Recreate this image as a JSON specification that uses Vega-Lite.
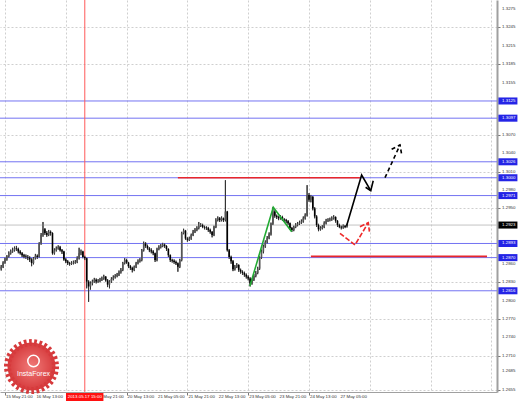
{
 "$schema": "https://vega.github.io/schema/vega-lite/v6.json",
 "width": 497, "height": 392,
 "autosize": {"type": "none"},
 "padding": {"left": 0, "top": 0, "right": 21, "bottom": 10},
 "background": "white",
 "config": {"view": {"stroke": null}, "font": "Liberation Sans"},
 "datasets": {
  "candles": [
{"i":-2,"o":1.2852,"h":1.2858,"l":1.2849,"c":1.2855},
{"i":-1,"o":1.2855,"h":1.2864,"l":1.2853,"c":1.2862},
{"i":0,"o":1.2862,"h":1.2870,"l":1.2860,"c":1.2867},
{"i":1,"o":1.2867,"h":1.2874,"l":1.2865,"c":1.2872},
{"i":2,"o":1.2872,"h":1.2880,"l":1.2870,"c":1.2877},
{"i":3,"o":1.2877,"h":1.2883,"l":1.2875,"c":1.2880},
{"i":4,"o":1.2880,"h":1.2886,"l":1.2878,"c":1.2882},
{"i":5,"o":1.2882,"h":1.2888,"l":1.2880,"c":1.2885},
{"i":6,"o":1.2885,"h":1.2889,"l":1.2881,"c":1.2884},
{"i":7,"o":1.2884,"h":1.2886,"l":1.2877,"c":1.2880},
{"i":8,"o":1.2880,"h":1.2882,"l":1.2875,"c":1.2877},
{"i":9,"o":1.2877,"h":1.2879,"l":1.2871,"c":1.2874},
{"i":10,"o":1.2874,"h":1.2876,"l":1.2869,"c":1.2872},
{"i":11,"o":1.2872,"h":1.2875,"l":1.2868,"c":1.2871},
{"i":12,"o":1.2871,"h":1.2874,"l":1.2866,"c":1.2870},
{"i":13,"o":1.2870,"h":1.2872,"l":1.2863,"c":1.2867},
{"i":14,"o":1.2867,"h":1.2869,"l":1.2856,"c":1.2861},
{"i":15,"o":1.2861,"h":1.2871,"l":1.2859,"c":1.2869},
{"i":16,"o":1.2869,"h":1.2876,"l":1.2867,"c":1.2873},
{"i":17,"o":1.2873,"h":1.2875,"l":1.2868,"c":1.2871},
{"i":18,"o":1.2871,"h":1.2895,"l":1.2870,"c":1.2893},
{"i":19,"o":1.2893,"h":1.2910,"l":1.2891,"c":1.2907},
{"i":20,"o":1.2907,"h":1.2928,"l":1.2904,"c":1.2916},
{"i":21,"o":1.2916,"h":1.2918,"l":1.2907,"c":1.2910},
{"i":22,"o":1.2910,"h":1.2913,"l":1.2904,"c":1.2907},
{"i":23,"o":1.2907,"h":1.2915,"l":1.2905,"c":1.2912},
{"i":24,"o":1.2912,"h":1.2914,"l":1.2906,"c":1.2910},
{"i":25,"o":1.2910,"h":1.2911,"l":1.2875,"c":1.2877},
{"i":26,"o":1.2877,"h":1.2885,"l":1.2875,"c":1.2882},
{"i":27,"o":1.2882,"h":1.2888,"l":1.2880,"c":1.2885},
{"i":28,"o":1.2885,"h":1.2890,"l":1.2883,"c":1.2887},
{"i":29,"o":1.2887,"h":1.2889,"l":1.2880,"c":1.2882},
{"i":30,"o":1.2882,"h":1.2884,"l":1.2876,"c":1.2880},
{"i":31,"o":1.2880,"h":1.2881,"l":1.2865,"c":1.2867},
{"i":32,"o":1.2867,"h":1.2869,"l":1.2861,"c":1.2864},
{"i":33,"o":1.2864,"h":1.2866,"l":1.2858,"c":1.2861},
{"i":34,"o":1.2861,"h":1.2863,"l":1.2857,"c":1.2860},
{"i":35,"o":1.2860,"h":1.2864,"l":1.2858,"c":1.2861},
{"i":36,"o":1.2861,"h":1.2865,"l":1.2859,"c":1.2862},
{"i":37,"o":1.2862,"h":1.2866,"l":1.2860,"c":1.2863},
{"i":38,"o":1.2863,"h":1.2872,"l":1.2861,"c":1.2869},
{"i":39,"o":1.2869,"h":1.2886,"l":1.2867,"c":1.2877},
{"i":40,"o":1.2877,"h":1.2883,"l":1.2874,"c":1.2880},
{"i":41,"o":1.2880,"h":1.2881,"l":1.2869,"c":1.2871},
{"i":42,"o":1.2871,"h":1.2873,"l":1.2866,"c":1.2869},
{"i":43,"o":1.2869,"h":1.2870,"l":1.2820,"c":1.2831},
{"i":44,"o":1.2831,"h":1.2833,"l":1.2798,"c":1.2823},
{"i":45,"o":1.2823,"h":1.2831,"l":1.2818,"c":1.2828},
{"i":46,"o":1.2828,"h":1.2834,"l":1.2825,"c":1.2831},
{"i":47,"o":1.2831,"h":1.2837,"l":1.2829,"c":1.2834},
{"i":48,"o":1.2834,"h":1.2836,"l":1.2828,"c":1.2831},
{"i":49,"o":1.2831,"h":1.2835,"l":1.2829,"c":1.2832},
{"i":50,"o":1.2832,"h":1.2837,"l":1.2830,"c":1.2834},
{"i":51,"o":1.2834,"h":1.2839,"l":1.2832,"c":1.2836},
{"i":52,"o":1.2836,"h":1.2842,"l":1.2834,"c":1.2839},
{"i":53,"o":1.2839,"h":1.2840,"l":1.2831,"c":1.2833},
{"i":54,"o":1.2833,"h":1.2835,"l":1.2822,"c":1.2826},
{"i":55,"o":1.2826,"h":1.2833,"l":1.2820,"c":1.2831},
{"i":56,"o":1.2831,"h":1.2838,"l":1.2829,"c":1.2835},
{"i":57,"o":1.2835,"h":1.2841,"l":1.2833,"c":1.2838},
{"i":58,"o":1.2838,"h":1.2843,"l":1.2836,"c":1.2840},
{"i":59,"o":1.2840,"h":1.2845,"l":1.2838,"c":1.2842},
{"i":60,"o":1.2842,"h":1.2849,"l":1.2840,"c":1.2846},
{"i":61,"o":1.2846,"h":1.2853,"l":1.2844,"c":1.2850},
{"i":62,"o":1.2850,"h":1.2863,"l":1.2848,"c":1.2861},
{"i":63,"o":1.2861,"h":1.2869,"l":1.2859,"c":1.2866},
{"i":64,"o":1.2866,"h":1.2868,"l":1.2860,"c":1.2862},
{"i":65,"o":1.2862,"h":1.2863,"l":1.2853,"c":1.2856},
{"i":66,"o":1.2856,"h":1.2858,"l":1.2850,"c":1.2853},
{"i":67,"o":1.2853,"h":1.2855,"l":1.2846,"c":1.2850},
{"i":68,"o":1.2850,"h":1.2857,"l":1.2848,"c":1.2855},
{"i":69,"o":1.2855,"h":1.2863,"l":1.2853,"c":1.2861},
{"i":70,"o":1.2861,"h":1.2867,"l":1.2859,"c":1.2864},
{"i":71,"o":1.2864,"h":1.2869,"l":1.2862,"c":1.2866},
{"i":72,"o":1.2866,"h":1.2884,"l":1.2864,"c":1.2882},
{"i":73,"o":1.2882,"h":1.2896,"l":1.2880,"c":1.2893},
{"i":74,"o":1.2893,"h":1.2895,"l":1.2886,"c":1.2889},
{"i":75,"o":1.2889,"h":1.2891,"l":1.2883,"c":1.2885},
{"i":76,"o":1.2885,"h":1.2887,"l":1.2879,"c":1.2882},
{"i":77,"o":1.2882,"h":1.2885,"l":1.2877,"c":1.2880},
{"i":78,"o":1.2880,"h":1.2882,"l":1.2874,"c":1.2877},
{"i":79,"o":1.2877,"h":1.2878,"l":1.2863,"c":1.2866},
{"i":80,"o":1.2866,"h":1.2886,"l":1.2864,"c":1.2884},
{"i":81,"o":1.2884,"h":1.2890,"l":1.2882,"c":1.2887},
{"i":82,"o":1.2887,"h":1.2892,"l":1.2885,"c":1.2889},
{"i":83,"o":1.2889,"h":1.2894,"l":1.2887,"c":1.2891},
{"i":84,"o":1.2891,"h":1.2893,"l":1.2886,"c":1.2889},
{"i":85,"o":1.2889,"h":1.2890,"l":1.2881,"c":1.2884},
{"i":86,"o":1.2884,"h":1.2885,"l":1.2871,"c":1.2874},
{"i":87,"o":1.2874,"h":1.2875,"l":1.2863,"c":1.2866},
{"i":88,"o":1.2866,"h":1.2868,"l":1.2862,"c":1.2865},
{"i":89,"o":1.2865,"h":1.2867,"l":1.2860,"c":1.2863},
{"i":90,"o":1.2863,"h":1.2865,"l":1.2858,"c":1.2861},
{"i":91,"o":1.2861,"h":1.2862,"l":1.2847,"c":1.2855},
{"i":92,"o":1.2855,"h":1.2868,"l":1.2853,"c":1.2866},
{"i":93,"o":1.2866,"h":1.2912,"l":1.2864,"c":1.2910},
{"i":94,"o":1.2910,"h":1.2917,"l":1.2908,"c":1.2914},
{"i":95,"o":1.2914,"h":1.2915,"l":1.2899,"c":1.2901},
{"i":96,"o":1.2901,"h":1.2903,"l":1.2896,"c":1.2899},
{"i":97,"o":1.2899,"h":1.2904,"l":1.2897,"c":1.2901},
{"i":98,"o":1.2901,"h":1.2909,"l":1.2899,"c":1.2907},
{"i":99,"o":1.2907,"h":1.2915,"l":1.2905,"c":1.2912},
{"i":100,"o":1.2912,"h":1.2918,"l":1.2910,"c":1.2915},
{"i":101,"o":1.2915,"h":1.2921,"l":1.2913,"c":1.2918},
{"i":102,"o":1.2918,"h":1.2928,"l":1.2916,"c":1.2922},
{"i":103,"o":1.2922,"h":1.2926,"l":1.2920,"c":1.2923},
{"i":104,"o":1.2923,"h":1.2925,"l":1.2918,"c":1.2920},
{"i":105,"o":1.2920,"h":1.2922,"l":1.2916,"c":1.2919},
{"i":106,"o":1.2919,"h":1.2921,"l":1.2915,"c":1.2918},
{"i":107,"o":1.2918,"h":1.2920,"l":1.2912,"c":1.2915},
{"i":108,"o":1.2915,"h":1.2917,"l":1.2909,"c":1.2912},
{"i":109,"o":1.2912,"h":1.2913,"l":1.2903,"c":1.2907},
{"i":110,"o":1.2907,"h":1.2922,"l":1.2905,"c":1.2920},
{"i":111,"o":1.2920,"h":1.2934,"l":1.2918,"c":1.2931},
{"i":112,"o":1.2931,"h":1.2937,"l":1.2929,"c":1.2934},
{"i":113,"o":1.2934,"h":1.2936,"l":1.2928,"c":1.2931},
{"i":114,"o":1.2931,"h":1.2937,"l":1.2929,"c":1.2934},
{"i":115,"o":1.2934,"h":1.2935,"l":1.2928,"c":1.2931},
{"i":116,"o":1.2931,"h":1.2996,"l":1.2929,"c":1.2945},
{"i":117,"o":1.2945,"h":1.2946,"l":1.2880,"c":1.2882},
{"i":118,"o":1.2882,"h":1.2884,"l":1.2868,"c":1.2871},
{"i":119,"o":1.2871,"h":1.2873,"l":1.2860,"c":1.2864},
{"i":120,"o":1.2864,"h":1.2866,"l":1.2848,"c":1.2851},
{"i":121,"o":1.2851,"h":1.2858,"l":1.2849,"c":1.2855},
{"i":122,"o":1.2855,"h":1.2861,"l":1.2853,"c":1.2858},
{"i":123,"o":1.2858,"h":1.2859,"l":1.2847,"c":1.2850},
{"i":124,"o":1.2850,"h":1.2852,"l":1.2844,"c":1.2847},
{"i":125,"o":1.2847,"h":1.2849,"l":1.2842,"c":1.2845},
{"i":126,"o":1.2845,"h":1.2847,"l":1.2839,"c":1.2842},
{"i":127,"o":1.2842,"h":1.2844,"l":1.2836,"c":1.2839},
{"i":128,"o":1.2839,"h":1.2841,"l":1.2833,"c":1.2836},
{"i":129,"o":1.2836,"h":1.2838,"l":1.2823,"c":1.2828},
{"i":130,"o":1.2828,"h":1.2836,"l":1.2826,"c":1.2834},
{"i":131,"o":1.2834,"h":1.2843,"l":1.2832,"c":1.2840},
{"i":132,"o":1.2840,"h":1.2848,"l":1.2838,"c":1.2845},
{"i":133,"o":1.2845,"h":1.2855,"l":1.2843,"c":1.2852},
{"i":134,"o":1.2852,"h":1.2872,"l":1.2850,"c":1.2870},
{"i":135,"o":1.2870,"h":1.2883,"l":1.2868,"c":1.2880},
{"i":136,"o":1.2880,"h":1.2891,"l":1.2877,"c":1.2888},
{"i":137,"o":1.2888,"h":1.2898,"l":1.2886,"c":1.2895},
{"i":138,"o":1.2895,"h":1.2905,"l":1.2893,"c":1.2902},
{"i":139,"o":1.2902,"h":1.2911,"l":1.2900,"c":1.2908},
{"i":140,"o":1.2908,"h":1.2927,"l":1.2906,"c":1.2925},
{"i":141,"o":1.2925,"h":1.2952,"l":1.2923,"c":1.2945},
{"i":142,"o":1.2945,"h":1.2947,"l":1.2935,"c":1.2938},
{"i":143,"o":1.2938,"h":1.2940,"l":1.2933,"c":1.2936},
{"i":144,"o":1.2936,"h":1.2938,"l":1.2931,"c":1.2934},
{"i":145,"o":1.2934,"h":1.2939,"l":1.2932,"c":1.2936},
{"i":146,"o":1.2936,"h":1.2938,"l":1.2930,"c":1.2932},
{"i":147,"o":1.2932,"h":1.2934,"l":1.2928,"c":1.2931},
{"i":148,"o":1.2931,"h":1.2933,"l":1.2926,"c":1.2929},
{"i":149,"o":1.2929,"h":1.2931,"l":1.2923,"c":1.2926},
{"i":150,"o":1.2926,"h":1.2927,"l":1.2915,"c":1.2918},
{"i":151,"o":1.2918,"h":1.2920,"l":1.2912,"c":1.2915},
{"i":152,"o":1.2915,"h":1.2922,"l":1.2913,"c":1.2920},
{"i":153,"o":1.2920,"h":1.2926,"l":1.2918,"c":1.2923},
{"i":154,"o":1.2923,"h":1.2928,"l":1.2921,"c":1.2925},
{"i":155,"o":1.2925,"h":1.2930,"l":1.2923,"c":1.2927},
{"i":156,"o":1.2927,"h":1.2932,"l":1.2925,"c":1.2929},
{"i":157,"o":1.2929,"h":1.2937,"l":1.2927,"c":1.2934},
{"i":158,"o":1.2934,"h":1.2942,"l":1.2932,"c":1.2939},
{"i":159,"o":1.2939,"h":1.2988,"l":1.2937,"c":1.2972},
{"i":160,"o":1.2972,"h":1.2975,"l":1.2961,"c":1.2964},
{"i":161,"o":1.2964,"h":1.2972,"l":1.2960,"c":1.2969},
{"i":162,"o":1.2969,"h":1.2970,"l":1.2947,"c":1.2950},
{"i":163,"o":1.2950,"h":1.2952,"l":1.2934,"c":1.2937},
{"i":164,"o":1.2937,"h":1.2939,"l":1.2920,"c":1.2923},
{"i":165,"o":1.2923,"h":1.2925,"l":1.2913,"c":1.2916},
{"i":166,"o":1.2916,"h":1.2921,"l":1.2914,"c":1.2918},
{"i":167,"o":1.2918,"h":1.2923,"l":1.2916,"c":1.2920},
{"i":168,"o":1.2920,"h":1.2929,"l":1.2918,"c":1.2926},
{"i":169,"o":1.2926,"h":1.2933,"l":1.2924,"c":1.2930},
{"i":170,"o":1.2930,"h":1.2934,"l":1.2928,"c":1.2931},
{"i":171,"o":1.2931,"h":1.2935,"l":1.2929,"c":1.2932},
{"i":172,"o":1.2932,"h":1.2937,"l":1.2930,"c":1.2934},
{"i":173,"o":1.2934,"h":1.2939,"l":1.2932,"c":1.2936},
{"i":174,"o":1.2936,"h":1.2937,"l":1.2927,"c":1.2930},
{"i":175,"o":1.2930,"h":1.2931,"l":1.2920,"c":1.2923},
{"i":176,"o":1.2923,"h":1.2925,"l":1.2918,"c":1.2920},
{"i":177,"o":1.2920,"h":1.2922,"l":1.2916,"c":1.2919},
{"i":178,"o":1.2919,"h":1.2924,"l":1.2917,"c":1.2922},
{"i":179,"o":1.2922,"h":1.2923,"l":1.2918,"c":1.2920},
{"i":180,"o":1.2920,"h":1.2925,"l":1.2919,"c":1.2923}
  ],
  "levels": [
   {"p":1.3125,"lab":"1.3125","kind":"blue"},
   {"p":1.3097,"lab":"1.3097","kind":"blue"},
   {"p":1.3026,"lab":"1.3026","kind":"blue"},
   {"p":1.3000,"lab":"1.3000","kind":"blue"},
   {"p":1.2971,"lab":"1.2971","kind":"blue"},
   {"p":1.2893,"lab":"1.2893","kind":"blue"},
   {"p":1.2870,"lab":"1.2870","kind":"blue"},
   {"p":1.2816,"lab":"1.2816","kind":"blue"},
   {"p":1.2923,"lab":"1.2923","kind":"bid"}
  ],
  "ylabels": [
   {"p":1.3275,"lab":"1.3275"},{"p":1.3245,"lab":"1.3245"},{"p":1.3215,"lab":"1.3215"},{"p":1.3185,"lab":"1.3185"},
   {"p":1.3155,"lab":"1.3155"},{"p":1.3070,"lab":"1.3070"},{"p":1.3040,"lab":"1.3040"},{"p":1.3010,"lab":"1.3010"},
   {"p":1.2980,"lab":"1.2980"},{"p":1.2950,"lab":"1.2950"},{"p":1.2860,"lab":"1.2860"},{"p":1.2830,"lab":"1.2830"},
   {"p":1.2800,"lab":"1.2800"},{"p":1.2770,"lab":"1.2770"},{"p":1.2740,"lab":"1.2740"},{"p":1.2710,"lab":"1.2710"},
   {"p":1.2685,"lab":"1.2685"},{"p":1.2655,"lab":"1.2655"}
  ],
  "xlabels": [
   {"i":0,"lab":"15 May 21:00"},{"i":16,"lab":"16 May 13:00"},{"i":48,"lab":"17 May 21:00"},
   {"i":64,"lab":"20 May 13:00"},{"i":80,"lab":"21 May 05:00"},{"i":96,"lab":"21 May 21:00"},{"i":112,"lab":"22 May 13:00"},
   {"i":128,"lab":"23 May 05:00"},{"i":144,"lab":"23 May 21:00"},{"i":160,"lab":"24 May 13:00"},{"i":176,"lab":"27 May 05:00"}
  ],
  "redlines": [
   {"p":1.3000,"a":91,"b":186.8},
   {"p":1.2872,"a":161,"b":253.7}
  ],
  "vline": [{"i":42,"lab":"2013.05.17 15:00"}],
  "paths": [
   {"seg":"g","k":0,"i":128.9,"p":1.28238,"kind":"green"},
   {"seg":"g","k":1,"i":141.2,"p":1.29519,"kind":"green"},
   {"seg":"g","k":2,"i":150.9,"p":1.29122,"kind":"green"},
   {"seg":"b1","k":0,"i":179.8,"p":1.2922,"kind":"black"},
   {"seg":"b1","k":1,"i":187.7,"p":1.30045,"kind":"black"},
   {"seg":"b1","k":2,"i":192.5,"p":1.2979,"kind":"black"},
   {"seg":"b2","k":0,"i":189.8,"p":1.29845,"kind":"black"},
   {"seg":"b2","k":1,"i":192.5,"p":1.2979,"kind":"black"},
   {"seg":"b2","k":2,"i":193.8,"p":1.29952,"kind":"black"},
   {"seg":"d1","k":0,"i":200,"p":1.30001,"kind":"blackdash"},
   {"seg":"d1","k":1,"i":207.9,"p":1.30534,"kind":"blackdash"},
   {"seg":"d2","k":0,"i":203.5,"p":1.30464,"kind":"blackdash"},
   {"seg":"d2","k":1,"i":207.9,"p":1.30534,"kind":"blackdash"},
   {"seg":"d2","k":2,"i":208.8,"p":1.30371,"kind":"blackdash"},
   {"seg":"r1","k":0,"i":176.3,"p":1.29096,"kind":"red"},
   {"seg":"r1","k":1,"i":184.2,"p":1.28906,"kind":"red"},
   {"seg":"r1","k":2,"i":191.2,"p":1.29269,"kind":"red"},
   {"seg":"r2","k":0,"i":186.8,"p":1.29203,"kind":"red"},
   {"seg":"r2","k":1,"i":191.2,"p":1.29269,"kind":"red"},
   {"seg":"r2","k":2,"i":191.8,"p":1.29122,"kind":"red"}
  ],
  "logo": [{"name":"InstaForex"}]
 },
 "layer": [
  {
   "data": {"name": "candles"},
   "mark": {"type": "rule", "color": "#333333", "strokeWidth": 1},
   "encoding": {
    "x": {"field": "i", "type": "quantitative", "scale": {"domain": [-2.63, 258.95], "nice": false, "zero": false},
     "axis": {"title": null, "values": [0,8,16,24,32,40,48,56,64,72,80,88,96,104,112,120,128,136,144,152,160,168,176,184,192,200,208,216,224,232,240,248,256],
      "grid": true, "gridDash": [2,2], "gridColor": "#cfcfcf", "gridWidth": 1, "labels": false,
      "tickSize": 3, "tickColor": "#777777",
      "tickOpacity": {"condition": {"test": "datum.value % 16 != 0 || datum.value > 176", "value": 0}, "value": 1},
      "domainColor": "#a0a0a0", "domainWidth": 1}},
    "y": {"field": "l", "type": "quantitative", "scale": {"domain": [1.26512, 1.32894], "nice": false, "zero": false},
     "axis": {"title": null, "orient": "right", "values": [1.3275,1.3245,1.3215,1.3185,1.3155,1.3070,1.3040,1.3010,1.2980,1.2950,1.2860,1.2830,1.2800,1.2770,1.2740,1.2710,1.2685,1.2655],
      "grid": true, "gridDash": [2,2], "gridColor": "#cfcfcf", "gridWidth": 1, "labels": false,
      "tickSize": 3, "tickColor": "#777777", "domainColor": "#a0a0a0", "domainWidth": 2}},
    "y2": {"field": "h"}
   }
  },
  {
   "data": {"name": "ylabels"},
   "mark": {"type": "text", "align": "left", "baseline": "middle", "fontSize": 4.4, "color": "#333333", "font": "Liberation Sans"},
   "encoding": {
    "x": {"datum": 261.6, "type": "quantitative", "scale": {"domain": [-2.63, 258.95], "nice": false, "zero": false}},
    "y": {"field": "p", "type": "quantitative", "scale": {"domain": [1.26512, 1.32894], "nice": false, "zero": false}},
    "text": {"field": "lab"}
   }
  },
  {
   "data": {"name": "xlabels"},
   "mark": {"type": "text", "align": "left", "baseline": "middle", "fontSize": 4.4, "color": "#333333", "font": "Liberation Sans", "dx": 1},
   "encoding": {
    "x": {"field": "i", "type": "quantitative", "scale": {"domain": [-2.63, 258.95], "nice": false, "zero": false}},
    "y": {"datum": 1.26433, "type": "quantitative", "scale": {"domain": [1.26512, 1.32894], "nice": false, "zero": false}},
    "text": {"field": "lab"}
   }
  },
  {
   "data": {"name": "levels"},
   "transform": [{"filter": "datum.kind == 'blue'"}],
   "mark": {"type": "rule", "color": "#7373f2", "strokeWidth": 1},
   "encoding": {"y": {"field": "p", "type": "quantitative", "scale": {"domain": [1.26512, 1.32894], "nice": false, "zero": false}}}
  },
  {
   "data": {"name": "levels"},
   "transform": [{"filter": "datum.kind == 'bid'"}],
   "mark": {"type": "rule", "color": "#c4c4c4", "strokeWidth": 1},
   "encoding": {"y": {"field": "p", "type": "quantitative", "scale": {"domain": [1.26512, 1.32894], "nice": false, "zero": false}}}
  },
  {
   "data": {"name": "vline"},
   "mark": {"type": "rule", "color": "#ff5a5a", "strokeWidth": 1},
   "encoding": {"x": {"field": "i", "type": "quantitative", "scale": {"domain": [-2.63, 258.95], "nice": false, "zero": false}}}
  },
  {
   "data": {"name": "redlines"},
   "mark": {"type": "rule", "color": "#e8262b", "strokeWidth": 1.6},
   "encoding": {
    "x": {"field": "a", "type": "quantitative", "scale": {"domain": [-2.63, 258.95], "nice": false, "zero": false}},
    "x2": {"field": "b"},
    "y": {"field": "p", "type": "quantitative", "scale": {"domain": [1.26512, 1.32894], "nice": false, "zero": false}}
   }
  },
  {
   "data": {"name": "candles"},
   "mark": {"type": "rule", "color": "#333333", "strokeWidth": 1},
   "encoding": {
    "x": {"field": "i", "type": "quantitative", "scale": {"domain": [-2.63, 258.95], "nice": false, "zero": false}},
    "y": {"field": "l", "type": "quantitative", "scale": {"domain": [1.26512, 1.32894], "nice": false, "zero": false}},
    "y2": {"field": "h"}
   }
  },
  {
   "data": {"name": "candles"},
   "mark": {"type": "rule", "strokeWidth": 1.6},
   "encoding": {
    "x": {"field": "i", "type": "quantitative", "scale": {"domain": [-2.63, 258.95], "nice": false, "zero": false}},
    "y": {"field": "o", "type": "quantitative", "scale": {"domain": [1.26512, 1.32894], "nice": false, "zero": false}},
    "y2": {"field": "c"},
    "color": {"condition": {"test": "datum.c < datum.o", "value": "#000000"}, "value": "#555555"}
   }
  },
  {
   "data": {"name": "paths"},
   "transform": [{"filter": "datum.kind == 'green'"}],
   "mark": {"type": "line", "color": "#22aa33", "strokeWidth": 1.6},
   "encoding": {
    "x": {"field": "i", "type": "quantitative", "scale": {"domain": [-2.63, 258.95], "nice": false, "zero": false}},
    "y": {"field": "p", "type": "quantitative", "scale": {"domain": [1.26512, 1.32894], "nice": false, "zero": false}},
    "detail": {"field": "seg"}, "order": {"field": "k"}
   }
  },
  {
   "data": {"name": "paths"},
   "transform": [{"filter": "datum.kind == 'black'"}],
   "mark": {"type": "line", "color": "#000000", "strokeWidth": 1.6},
   "encoding": {
    "x": {"field": "i", "type": "quantitative", "scale": {"domain": [-2.63, 258.95], "nice": false, "zero": false}},
    "y": {"field": "p", "type": "quantitative", "scale": {"domain": [1.26512, 1.32894], "nice": false, "zero": false}},
    "detail": {"field": "seg"}, "order": {"field": "k"}
   }
  },
  {
   "data": {"name": "paths"},
   "transform": [{"filter": "datum.kind == 'blackdash'"}],
   "mark": {"type": "line", "color": "#000000", "strokeWidth": 1.6, "strokeDash": [4, 3]},
   "encoding": {
    "x": {"field": "i", "type": "quantitative", "scale": {"domain": [-2.63, 258.95], "nice": false, "zero": false}},
    "y": {"field": "p", "type": "quantitative", "scale": {"domain": [1.26512, 1.32894], "nice": false, "zero": false}},
    "detail": {"field": "seg"}, "order": {"field": "k"}
   }
  },
  {
   "data": {"name": "paths"},
   "transform": [{"filter": "datum.kind == 'red'"}],
   "mark": {"type": "line", "color": "#ee2a2a", "strokeWidth": 1.6, "strokeDash": [5, 2]},
   "encoding": {
    "x": {"field": "i", "type": "quantitative", "scale": {"domain": [-2.63, 258.95], "nice": false, "zero": false}},
    "y": {"field": "p", "type": "quantitative", "scale": {"domain": [1.26512, 1.32894], "nice": false, "zero": false}},
    "detail": {"field": "seg"}, "order": {"field": "k"}
   }
  },
  {
   "data": {"name": "levels"},
   "mark": {"type": "point", "shape": "M-1,-0.37H1V0.37H-1Z", "filled": true, "size": 361, "opacity": 1, "strokeWidth": 0},
   "encoding": {
    "x": {"datum": 264.7, "type": "quantitative", "scale": {"domain": [-2.63, 258.95], "nice": false, "zero": false}},
    "y": {"field": "p", "type": "quantitative", "scale": {"domain": [1.26512, 1.32894], "nice": false, "zero": false}},
    "color": {"condition": {"test": "datum.kind == 'bid'", "value": "#000000"}, "value": "#2424e6"}
   }
  },
  {
   "data": {"name": "levels"},
   "mark": {"type": "text", "align": "left", "baseline": "middle", "fontSize": 4.4, "color": "#ffffff", "font": "Liberation Sans"},
   "encoding": {
    "x": {"datum": 261.6, "type": "quantitative", "scale": {"domain": [-2.63, 258.95], "nice": false, "zero": false}},
    "y": {"field": "p", "type": "quantitative", "scale": {"domain": [1.26512, 1.32894], "nice": false, "zero": false}},
    "text": {"field": "lab"}
   }
  },
  {
   "data": {"name": "vline"},
   "mark": {"type": "rect", "color": "#ff1010"},
   "encoding": {
    "x": {"datum": 32.1, "type": "quantitative", "scale": {"domain": [-2.63, 258.95], "nice": false, "zero": false}},
    "x2": {"datum": 51.8},
    "y": {"datum": 1.26496, "type": "quantitative", "scale": {"domain": [1.26512, 1.32894], "nice": false, "zero": false}},
    "y2": {"datum": 1.26366}
   }
  },
  {
   "data": {"name": "vline"},
   "mark": {"type": "text", "align": "center", "baseline": "middle", "fontSize": 4.4, "color": "#ffffff", "font": "Liberation Sans"},
   "encoding": {
    "x": {"field": "i", "type": "quantitative", "scale": {"domain": [-2.63, 258.95], "nice": false, "zero": false}},
    "y": {"datum": 1.26433, "type": "quantitative", "scale": {"domain": [1.26512, 1.32894], "nice": false, "zero": false}},
    "text": {"field": "lab"}
   }
  },
  {
   "data": {"name": "logo"},
   "mark": {"type": "point", "shape": "circle", "filled": true, "size": 2304, "opacity": 1,
    "fill": {"gradient": "radial", "stops": [{"offset": 0, "color": "#f07a78"}, {"offset": 1, "color": "#d63a3c"}]},
    "stroke": "#d63a3c", "strokeWidth": 7, "strokeDash": [2.6, 2.4]},
   "encoding": {
    "x": {"datum": 13.95, "type": "quantitative", "scale": {"domain": [-2.63, 258.95], "nice": false, "zero": false}},
    "y": {"datum": 1.26927, "type": "quantitative", "scale": {"domain": [1.26512, 1.32894], "nice": false, "zero": false}}
   }
  },
  {
   "data": {"name": "logo"},
   "mark": {"type": "point", "shape": "circle", "filled": false, "size": 130, "opacity": 1, "stroke": "#ffffff", "strokeWidth": 1.5},
   "encoding": {
    "x": {"datum": 15.0, "type": "quantitative", "scale": {"domain": [-2.63, 258.95], "nice": false, "zero": false}},
    "y": {"datum": 1.27017, "type": "quantitative", "scale": {"domain": [1.26512, 1.32894], "nice": false, "zero": false}}
   }
  },
  {
   "data": {"name": "logo"},
   "mark": {"type": "text", "align": "center", "baseline": "middle", "fontSize": 7, "color": "#ffffff", "font": "Liberation Sans"},
   "encoding": {
    "x": {"datum": 15.0, "type": "quantitative", "scale": {"domain": [-2.63, 258.95], "nice": false, "zero": false}},
    "y": {"datum": 1.26813, "type": "quantitative", "scale": {"domain": [1.26512, 1.32894], "nice": false, "zero": false}},
    "text": {"field": "name"}
   }
  }
 ]
}
